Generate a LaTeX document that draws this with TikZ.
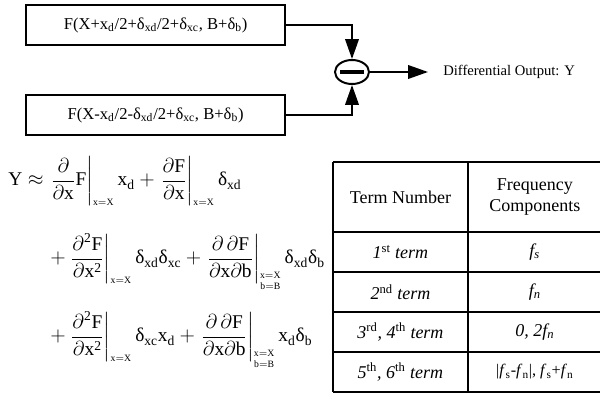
\documentclass[tikz,border=0pt]{standalone}
\usepackage{amsmath}
\usepackage{fontspec}
\setmainfont{Liberation Serif}
\usetikzlibrary{arrows.meta,positioning,shapes.geometric}

\newcommand{\dlt}{\text{δ}}
\newcommand{\atx}{\scriptscriptstyle\mathrm{x = X}}
\newcommand{\atxb}{\substack{\scriptscriptstyle\mathrm{x = X}\\ \scriptscriptstyle\mathrm{b = B}}}

\begin{document}
\begin{tikzpicture}[>=Latex,
  fbox/.style={draw=black,line width=1.4pt,minimum width=6.475cm,minimum height=1.0cm,inner sep=2pt,font=\fontsize{11.8}{13}\selectfont},
  sumnode/.style={draw=black,ellipse,line width=1.4pt,minimum width=0.85cm,minimum height=0.6cm,inner sep=0pt},
  flow/.style={line width=1.4pt,-{Triangle[length=5mm,width=3.4mm]}},
  eqline/.style={anchor=base west,inner sep=0pt,font=\fontsize{13.8}{15}\selectfont},
  rule/.style={line width=1.4pt},
  cell/.style={align=center,inner sep=0pt,font=\fontsize{12.8}{15.6}\selectfont}]
\useasboundingbox (0,0) rectangle (15,-9.85);

% block diagram
\node[fbox] (fplus) at (3.89,-0.625) {F(X+x\textsubscript{d}/2+δ\textsubscript{xd}/2+δ\textsubscript{xc}, B+δ\textsubscript{b})};
\node[fbox] (fminus) at (3.89,-2.875) {F(X-x\textsubscript{d}/2-δ\textsubscript{xd}/2+δ\textsubscript{xc}, B+δ\textsubscript{b})};
\node[sumnode] (sum) at (8.8,-1.8) {};
\draw[line width=2.2pt] ([xshift=-0.3cm]sum.center) -- ([xshift=0.3cm]sum.center);
\node[anchor=west,inner xsep=0.375cm,inner ysep=0pt,font=\fontsize{10.4}{12}\selectfont] (out) at (10.7,-1.8) {Differential Output: Y};
\draw[flow] (fplus.east) -| (sum.north);
\draw[flow] (fminus.east) -| (sum.south);
\draw[flow] (sum.east) -- (out.west);

% expansion
\node[eqline] (eq1) at (0.2,-4.65) {$\mathrm{Y \approx \left.\dfrac{\partial}{\partial x}F\right|_{\atx} x_d + \left.\dfrac{\partial F}{\partial x}\right|_{\atx} \dlt_{xd}}$};
\node[eqline] (eq2) at (1.25,-6.6) {$\mathrm{+\left.\dfrac{\partial^2 F}{\partial x^2}\right|_{\atx} \dlt_{xd}\dlt_{xc} + \left.\dfrac{\partial\,\partial F}{\partial x \partial b}\right|_{\atxb} \dlt_{xd}\dlt_{b}}$};
\node[eqline] (eq3) at (1.25,-8.55) {$\mathrm{+\left.\dfrac{\partial^2 F}{\partial x^2}\right|_{\atx} \dlt_{xc}x_d + \left.\dfrac{\partial\,\partial F}{\partial x \partial b}\right|_{\atxb} x_d\dlt_{b}}$};

% table of terms
\draw[rule] (8.325,-4.05) -- (15,-4.05);
\draw[rule] (8.325,-5.8) -- (15,-5.8);
\draw[rule] (8.325,-6.8) -- (15,-6.8);
\draw[rule] (8.325,-7.8) -- (15,-7.8);
\draw[rule] (8.325,-8.8) -- (15,-8.8);
\draw[rule] (8.325,-9.8) -- (15,-9.8);
\draw[rule] (8.325,-4.05) -- (8.325,-9.8);
\draw[rule] (11.7,-4.05) -- (11.7,-9.8);
\node[cell] (h1) at (10.01,-4.925) {Term Number};
\node[cell] (h2) at (13.37,-4.925) {Frequency\\Components};
\node[cell] (t1) at (10.01,-6.3) {\textit{1}\textsuperscript{st} \textit{term}};
\node[cell] (f1) at (13.37,-6.3) {\textit{f\textsubscript{s}}};
\node[cell] (t2) at (10.01,-7.3) {\textit{2}\textsuperscript{nd} \textit{term}};
\node[cell] (f2) at (13.37,-7.3) {\textit{f\textsubscript{n}}};
\node[cell] (t3) at (10.01,-8.3) {\textit{3}\textsuperscript{rd}\textit{, 4}\textsuperscript{th} \textit{term}};
\node[cell] (f3) at (13.37,-8.3) {\textit{0, 2f\textsubscript{n}}};
\node[cell] (t4) at (10.01,-9.3) {\textit{5}\textsuperscript{th}\textit{, 6}\textsuperscript{th} \textit{term}};
\node[cell,font=\fontsize{11.5}{14}\selectfont] (f4) at (13.37,-9.3) {|\textit{f}\textsubscript{s}-\textit{f}\textsubscript{n}|, \textit{f}\textsubscript{s}+\textit{f}\textsubscript{n}};
\end{tikzpicture}
\end{document}
